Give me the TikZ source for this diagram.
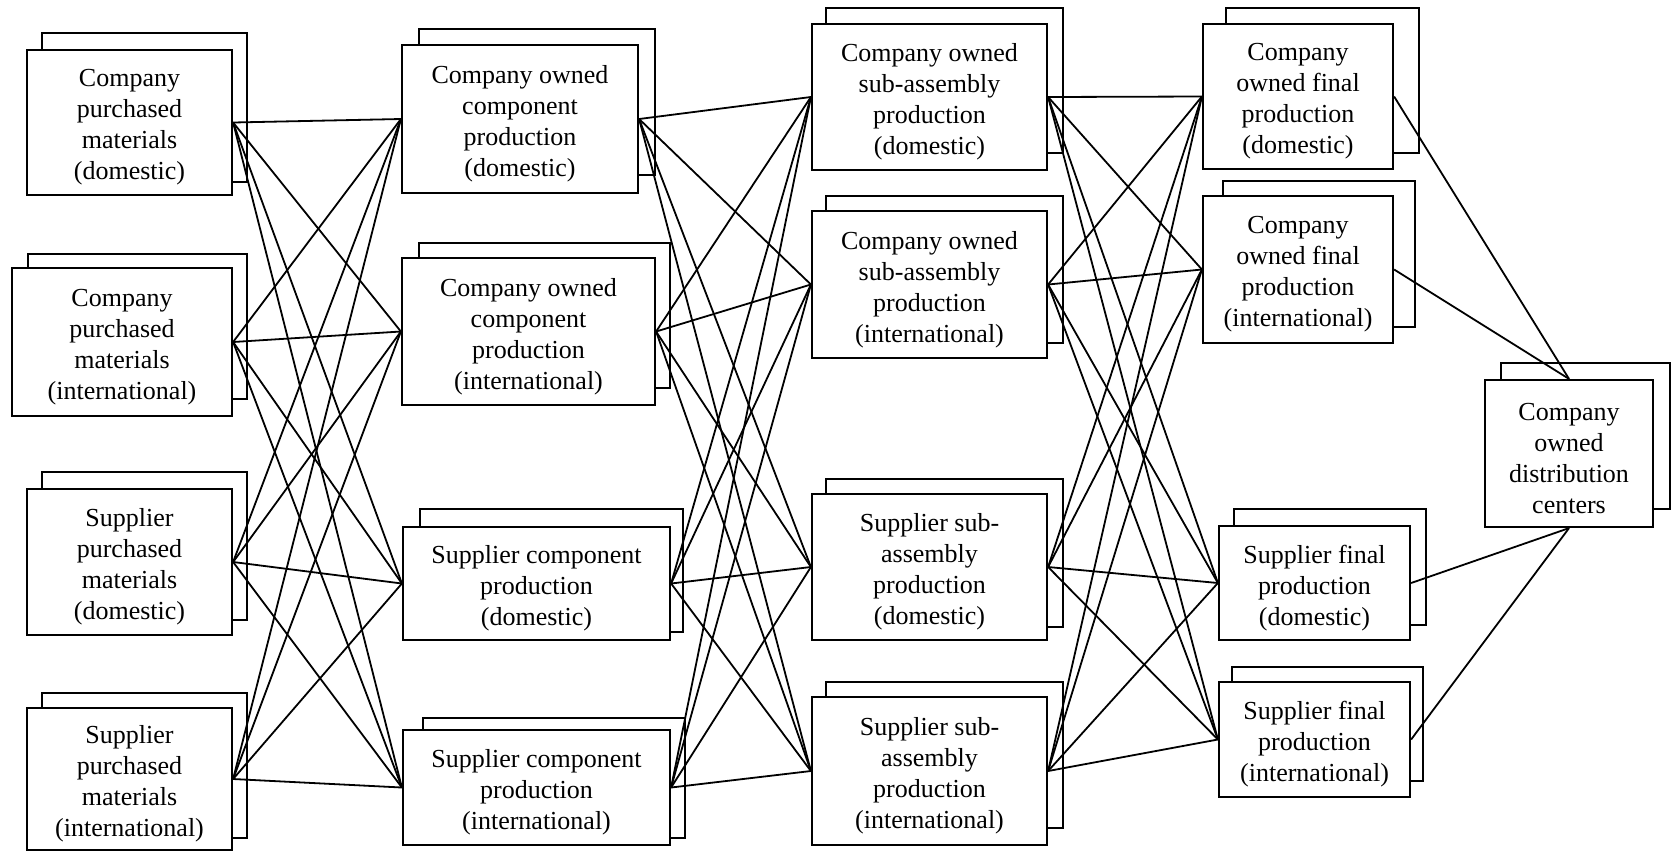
\documentclass[tikz,border=0pt]{standalone}
\usepackage{fontspec}
\setmainfont{Liberation Serif}
\usetikzlibrary{fit}
\tikzset{
  backbox/.style={draw, fill=white, line width=1.1pt},
  frontbox/.style={draw, fill=white, line width=1.1pt, inner sep=0pt},
  boxtext/.style={align=center, inner sep=0pt, yshift=-2.5pt,
    font=\fontsize{13pt}{15.5pt}\selectfont},
  link/.style={line width=0.9pt}
}
\newcommand\pbox[9]{%
  \draw[backbox] (#6,#7) rectangle (#8,#9);
  \node[frontbox, fit={(#2,#3) (#4,#5)}] (#1) {};
  \node[boxtext] (#1t) at (#1.center)}
\begin{document}
\begin{tikzpicture}[x=0.5pt, y=-0.5pt]
\useasboundingbox (0,0) rectangle (1673,853);
% column 1
\pbox{A1}{27}{50}{232}{195}{42}{33}{247}{182} {Company\\purchased\\materials\\(domestic)};
\pbox{A2}{12}{268}{232}{416}{28}{254}{247}{399} {Company\\purchased\\materials\\(international)};
\pbox{A3}{27}{489}{232}{635}{42}{472}{247}{620} {Supplier\\purchased\\materials\\(domestic)};
\pbox{A4}{27}{708}{232}{850}{42}{693}{247}{838} {Supplier\\purchased\\materials\\(international)};
% column 2
\pbox{B1}{402}{45}{638}{193}{419}{29}{655}{175} {Company owned\\component\\production\\(domestic)};
\pbox{B2}{402}{258}{655}{405}{419}{243}{670}{388} {Company owned\\component\\production\\(international)};
\pbox{B3}{403}{527}{670}{640}{420}{509}{683}{632} {Supplier component\\production\\(domestic)};
\pbox{B4}{403}{730}{670}{845}{423}{718}{685}{838} {Supplier component\\production\\(international)};
% column 3
\pbox{C1}{812}{24}{1047}{170}{826}{8}{1063}{153} {Company owned\\sub-assembly\\production\\(domestic)};
\pbox{C2}{812}{211}{1047}{358}{826}{196}{1063}{343} {Company owned\\sub-assembly\\production\\(international)};
\pbox{C3}{812}{494}{1047}{640}{826}{479}{1063}{627} {Supplier sub-\\assembly\\production\\(domestic)};
\pbox{C4}{812}{697}{1047}{845}{826}{682}{1063}{828} {Supplier sub-\\assembly\\production\\(international)};
% column 4
\pbox{D1}{1203}{24}{1393}{169}{1226}{8}{1419}{153} {Company\\owned final\\production\\(domestic)};
\pbox{D2}{1203}{196}{1393}{343}{1223}{181}{1415}{327} {Company\\owned final\\production\\(international)};
\pbox{D3}{1219}{526}{1410}{640}{1234}{509}{1426}{625} {Supplier final\\production\\(domestic)};
\pbox{D4}{1219}{682}{1410}{797}{1232}{667}{1423}{781} {Supplier final\\production\\(international)};
% distribution
\pbox{E}{1485}{380}{1653}{527}{1501}{363}{1670}{509} {Company\\owned\\distribution\\centers};
% connectors
\foreach \a in {A1,A2,A3,A4}{\foreach \b in {B1,B2,B3,B4}{\draw[link] (\a.east) -- (\b.west);}}
\foreach \a in {B1,B2,B3,B4}{\foreach \b in {C1,C2,C3,C4}{\draw[link] (\a.east) -- (\b.west);}}
\foreach \a in {C1,C2,C3,C4}{\foreach \b in {D1,D2,D3,D4}{\draw[link] (\a.east) -- (\b.west);}}
\draw[link] (D1.east) -- (E.north);
\draw[link] (D2.east) -- (E.north);
\draw[link] (D3.east) -- (E.south);
\draw[link] (D4.east) -- (E.south);
\end{tikzpicture}
\end{document}
